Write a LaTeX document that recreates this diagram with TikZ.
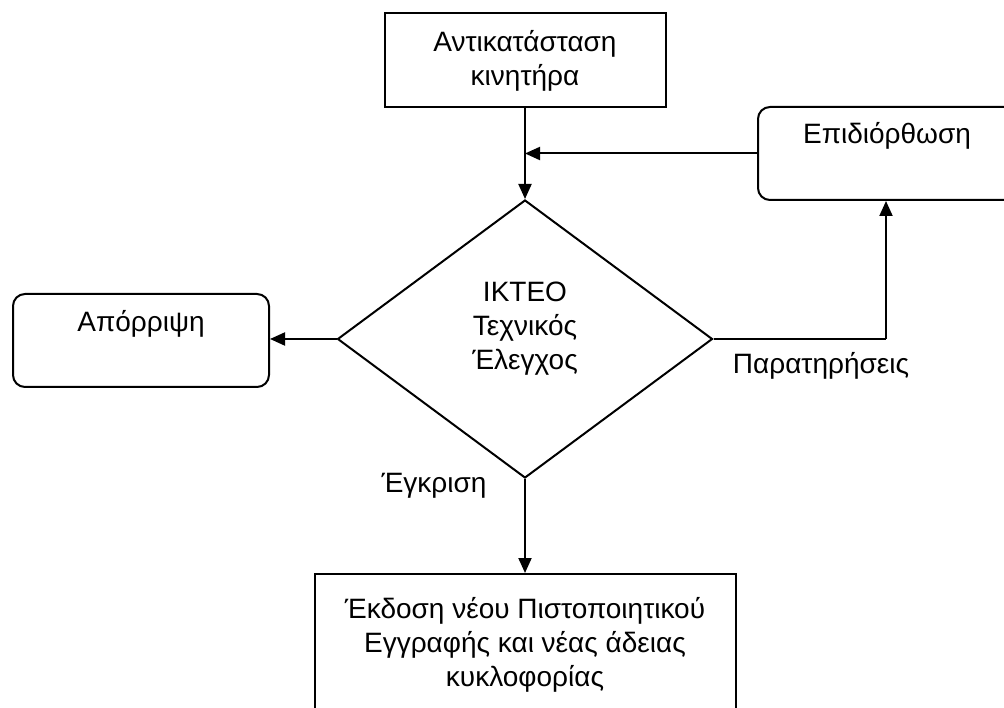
\documentclass[tikz,border=0pt]{standalone}
\usepackage{fontspec}
\setmainfont{Liberation Sans}
\usetikzlibrary{shapes.geometric,arrows.meta}
\begin{document}
\begin{tikzpicture}[x=1pt,y=-1pt,
  every node/.style={font=\fontsize{28}{34}\selectfont, inner sep=0pt},
  box/.style={draw, line width=2pt, align=center},
  rbox/.style={box, rounded corners=12pt},
  arr/.style={line width=2pt, -{Triangle[length=15pt,width=13pt]}},
  ln/.style={line width=2pt}]
\useasboundingbox (0,0) rectangle (1004,708);
\clip (0,0) rectangle (1004,708);
\node[box, anchor=north, minimum width=281pt, text height=73pt, text depth=21pt] (top) at (525,12) {Αντικατάσταση\\κινητήρα};
\node[rbox, anchor=north west, minimum width=258pt, text height=37pt, text depth=56pt] (rep) at (757,106) {Επιδιόρθωση};
\node[rbox, anchor=north west, minimum width=256pt, text height=38pt, text depth=55pt] (rej) at (12,293) {Απόρριψη};
\node[draw, diamond, line width=2pt, align=center, minimum width=375pt, minimum height=278pt, aspect=1.35, text height=85pt, text depth=23pt] (dia) at (525,339) {ΙΚΤΕΟ\\Τεχνικός\\Έλεγχος};
\node[box, anchor=north, minimum width=421pt, text height=112pt, text depth=60pt] (out) at (525,573) {Έκδοση νέου Πιστοποιητικού\\Εγγραφής και νέας άδειας\\κυκλοφορίας};
\node (lp) at (821,366) {Παρατηρήσεις};
\node (le) at (434,486) {Έγκριση};
\coordinate (turn) at (886,339);
\draw[arr] (top.south) -- (dia.north);
\draw[arr] (rep.west) -- (rep.west -| top.south);
\draw[ln] (dia.east) -- (turn);
\draw[arr] (turn) -- (turn |- rep.south);
\draw[arr] (dia.west) -- (dia.west -| rej.east);
\draw[arr] (dia.south) -- (out.north);
\end{tikzpicture}
\end{document}
